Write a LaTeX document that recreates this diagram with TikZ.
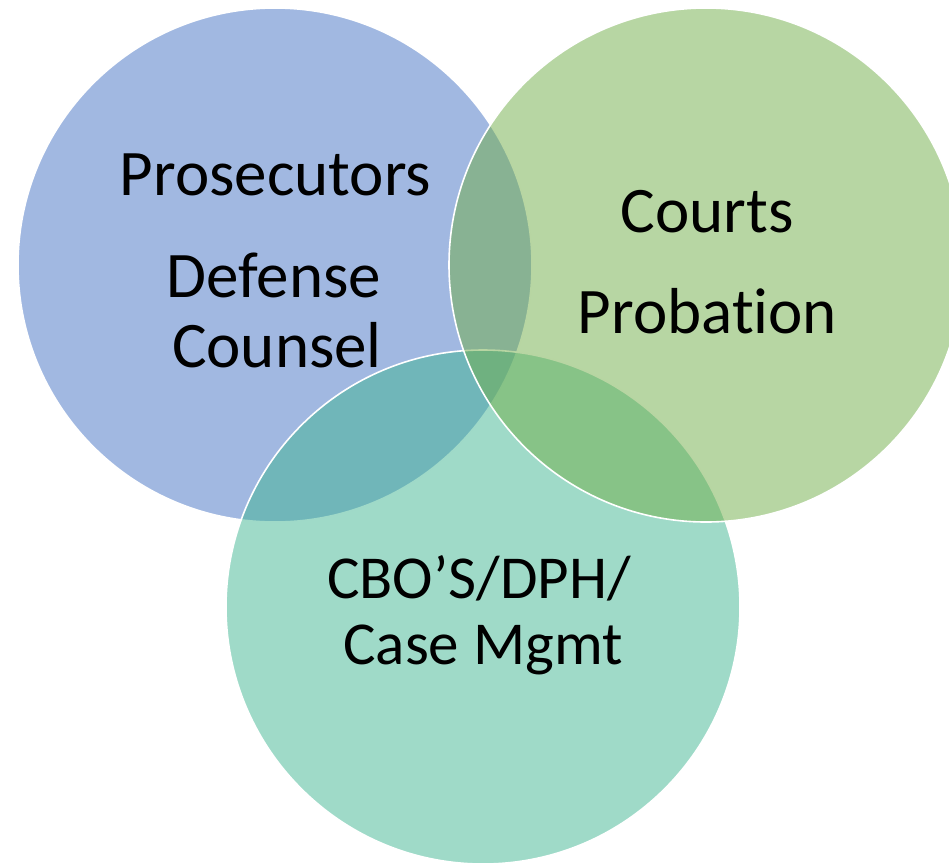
\documentclass[tikz,border=0pt]{standalone}
\usepackage{fontspec}
\setmainfont{Carlito}[Ligatures=NoCommon]
\usepackage{xcolor}
\definecolor{Office Blue}{HTML}{4472C4}
\definecolor{Office Green}{HTML}{70AD47}
\definecolor{Sea Teal}{HTML}{40B592}
\colorlet{cBlue}{Office Blue}
\colorlet{cGreen}{Office Green}
\colorlet{cTeal}{Sea Teal}
\usetikzlibrary{positioning}
\tikzset{
	x=1pt,
	y=-1pt,
	vennset/.style={
		circle,
		draw=white,
		line width=1.6pt,
		fill opacity=.5,
		draw opacity=1,
		minimum size=514pt,
		inner sep=0pt
	},
	venntext/.style={
		anchor=base,
		inner sep=0pt,
		font=\fontsize{65}{70}\selectfont
	},
	smalltext/.style={
		venntext,
		font=\fontsize{61}{66}\selectfont
	}
}

\begin{document}
\begin{tikzpicture}
	\useasboundingbox (0,0) rectangle (949,863);
	% the three sets, blue first, green on top
	\node (lawyers) [vennset, fill=cBlue] at (275,265) {};
	\node (services) [vennset, fill=cTeal] at (483,607) {};
	\node (courtset) [vennset, fill=cGreen] at (706,265) {};

	\node (prosec) [venntext] at (275.5,195) {Prosecutors};
	\node (defense) [venntext] at (274,297) {Defense};
	\node (counsel) [venntext] at (277,367) {Counsel};
	\node (courts) [venntext] at (707,232) {Courts};
	\node (probation) [venntext] at (707.5,333) {Probation};
	\node (cbo) [smalltext] at (479,598) {CBO’S/DPH/};
	\node (casemgmt) [smalltext] at (483,664) {Case Mgmt};
\end{tikzpicture}
\end{document}
